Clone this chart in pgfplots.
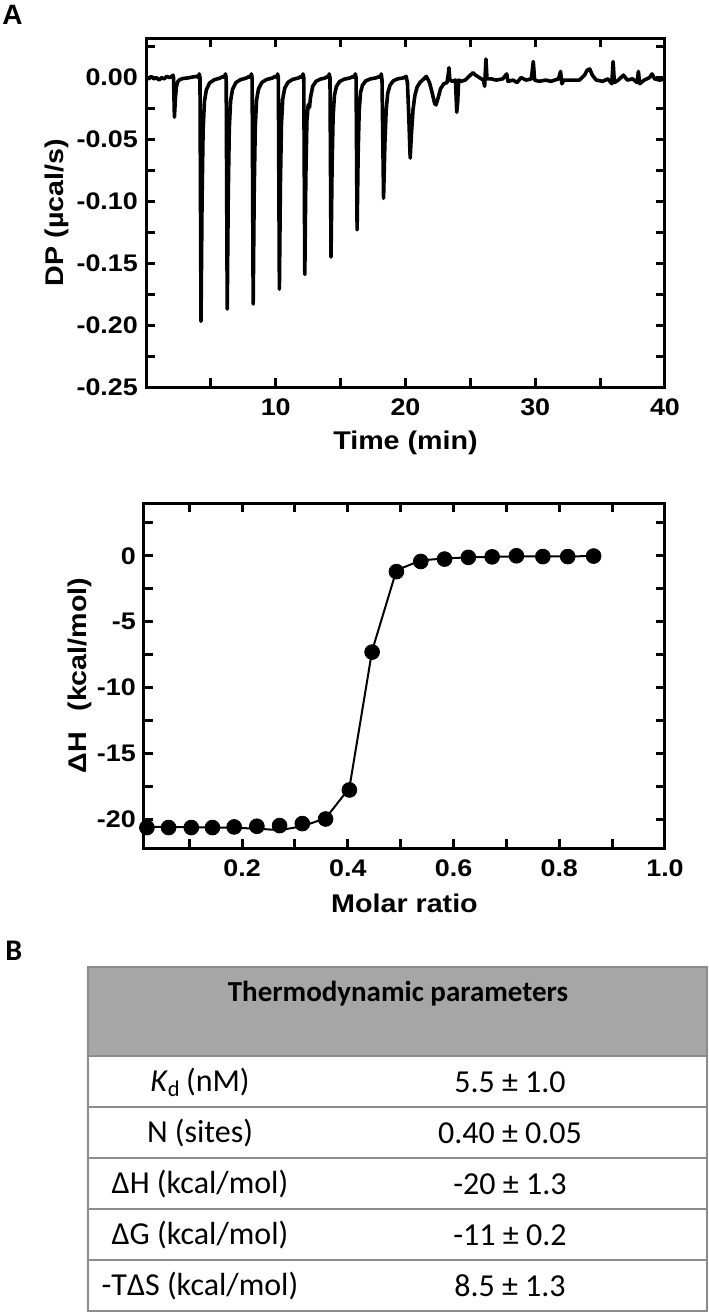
\documentclass[border=0pt]{standalone}
\usepackage{fontspec}
\setmainfont{Liberation Sans}
\newfontfamily\plotfont{Liberation Sans}[FakeStretch=1.12]
\newfontfamily\calibri{Carlito}
\usepackage{pgfplots}
\pgfplotsset{compat=1.18}
\definecolor{ruleGray}{HTML}{8C8C8C}
\definecolor{headGray}{HTML}{A6A6A6}

\pgfplotsset{itcstyle/.style={
  scale only axis, anchor=north west,
  tick align=inside,
  major tick length=4.5pt, minor tick length=4.5pt,
  line width=1.5pt,
  every tick/.style={black, line width=1.5pt},
  tick label style={font=\plotfont\bfseries\fontsize{12}{14}\selectfont},
  label style={font=\plotfont\bfseries\fontsize{12.8}{15}\selectfont},
  xticklabel style={yshift=-2pt},
}}

\begin{document}
\begin{tikzpicture}
\useasboundingbox (0,0) rectangle (354pt,-657pt);
\node[anchor=north west, inner sep=0pt, font=\bfseries\fontsize{14}{16}\selectfont] at (1pt,-2.5pt) {A};

% thermogram
\begin{axis}[itcstyle,
  at={(73pt,-19pt)}, width=259.5pt, height=174.5pt,
  xmin=0, xmax=40, ymin=-0.25, ymax=0.032,
  xtick={10,20,30,40}, xticklabels={10,20,30,40},
  minor xtick={5,15,25,35},
  ytick={-0.25,-0.2,-0.15,-0.1,-0.05,0},
  yticklabels={-0.25,-0.20,-0.15,-0.10,-0.05,0.00},
  minor ytick={-0.225,-0.175,-0.125,-0.075,-0.025,0.025},
  xlabel={Time (min)}, ylabel={DP (µcal/s)},
  xlabel style={at={(axis description cs:0.5,-0.1605)}, anchor=center},
  ylabel style={at={(axis description cs:-0.1715,0.5)}, anchor=center},
]
\addplot[black, line width=1.8pt, line join=round] coordinates {
(0,0.0)(0.2,-0.001)(0.4,0.001)(0.6,-0.001)(0.8,0.0)(1.0,-0.002)(1.2,0.0)(1.4,-0.001)(1.6,0.001)(1.8,0.0)(2.0,0.001)
(2.08,0.002)(2.12,0.0)(2.19,-0.032)(2.27,-0.016)(2.35,-0.007)(2.45,-0.0032)(2.6,-0.0016)(2.85,-0.0007)(3.2,-0.0003)(3.6,0.0005)(3.9,0.001)(4.05,0.0)
(4.1,0.003)(4.16,0.0)(4.24,-0.197)(4.32,-0.0985)(4.4,-0.0433)(4.5,-0.0197)(4.65,-0.0099)(4.9,-0.0043)(5.25,-0.0018)(5.7,-0.0004)(5.95,0.001)(6.05,0.0)
(6.12,0.003)(6.18,0.0)(6.26,-0.187)(6.34,-0.0935)(6.42,-0.0411)(6.52,-0.0187)(6.67,-0.0094)(6.92,-0.0041)(7.27,-0.0017)(7.72,-0.0004)(7.97,0.001)(8.07,0.0)
(8.12,0.003)(8.18,0.0)(8.26,-0.183)(8.34,-0.0915)(8.42,-0.0403)(8.52,-0.0183)(8.67,-0.0092)(8.92,-0.004)(9.27,-0.0016)(9.72,-0.0004)(9.97,0.001)(10.09,0.0)
(10.14,0.003)(10.2,0.0)(10.28,-0.171)(10.36,-0.0855)(10.44,-0.0376)(10.54,-0.0171)(10.69,-0.0086)(10.94,-0.0038)(11.29,-0.0015)(11.74,-0.0003)(11.97,0.001)(12.05,0.0)
(12.1,0.003)(12.16,0.0)(12.24,-0.159)(12.32,-0.0795)(12.4,-0.035)(12.5,-0.022)(12.6,-0.024)(12.68,-0.016)(12.85,-0.007)(13.1,-0.003)(13.45,-0.0012)(13.8,-0.0003)(14.0,0.001)(14.07,0.0)
(14.12,0.003)(14.18,0.0)(14.26,-0.145)(14.34,-0.0725)(14.42,-0.0319)(14.52,-0.0145)(14.67,-0.0073)(14.92,-0.0032)(15.27,-0.0013)(15.72,-0.0003)(15.98,0.001)(16.08,0.0)
(16.13,0.003)(16.19,0.0)(16.27,-0.123)(16.35,-0.0615)(16.43,-0.0271)(16.53,-0.0123)(16.68,-0.0062)(16.93,-0.0027)(17.28,-0.0011)(17.73,-0.0002)(18.0,0.001)(18.08,0.0)
(18.13,0.003)(18.19,-0.002)(18.31,-0.0975)(18.41,-0.0536)(18.51,-0.0263)(18.63,-0.0127)(18.8,-0.0063)(19.05,-0.0027)(19.4,-0.001)(19.85,-0.0002)
(20.05,0.001)(20.15,-0.004)(20.25,-0.03)(20.36,-0.065)(20.46,-0.045)(20.58,-0.026)(20.72,-0.0145)(20.9,-0.0075)(21.15,-0.0035)(21.4,-0.0012)(21.6,0.001)
(21.85,-0.004)(22.05,-0.012)(22.25,-0.021)(22.35,-0.022)(22.5,-0.017)(22.7,-0.009)(22.95,-0.005)(23.2,-0.004)(23.3,0.003)(23.35,0.008)(23.42,-0.002)(23.6,-0.003)(23.85,-0.002)(23.95,-0.028)(24.02,-0.02)(24.1,-0.002)
(24.3,-0.003)(24.6,-0.002)(24.9,0.001)(25.2,0.004)(25.4,0.002)(25.7,0.0)(26.0,-0.002)(26.1,-0.007)(26.2,0.015)(26.28,-0.001)(26.6,-0.001)(27.0,-0.002)(27.5,-0.001)
(27.8,0.003)(27.9,-0.003)(28.3,-0.002)(28.6,-0.004)(28.9,0.0)(29.3,-0.002)(29.7,-0.001)(29.85,0.013)(29.95,-0.002)(30.3,-0.003)(30.8,-0.002)(31.2,-0.003)(31.8,-0.001)
(31.95,0.005)(32.05,-0.005)(32.2,-0.002)(32.8,-0.002)(33.4,-0.002)(33.8,0.002)(34.0,0.006)(34.2,0.007)(34.4,0.002)(34.7,-0.002)(35.2,-0.003)(35.6,-0.001)(35.9,-0.005)
(36.0,0.013)(36.1,-0.004)(36.4,-0.002)(36.8,0.002)(37.1,-0.002)(37.5,-0.001)(37.85,-0.004)(37.95,0.005)(38.05,-0.005)(38.4,-0.002)(38.8,0.0)(39.0,0.003)(39.2,-0.001)(39.6,-0.002)(40,-0.001)
};
\end{axis}

% binding isotherm
\begin{axis}[itcstyle,
  at={(72pt,-251.5pt)}, width=260.5pt, height=172.5pt,
  xmin=0.0145, xmax=1, ymin=-22.15, ymax=4,
  clip=false,
  xtick={0.2,0.4,0.6,0.8,1.0}, xticklabels={0.2,0.4,0.6,0.8,1.0},
  minor xtick={0.1,0.3,0.5,0.7,0.9},
  ytick={-20,-15,-10,-5,0}, yticklabels={-20,-15,-10,-5,0},
  minor ytick={-17.5,-12.5,-7.5,-2.5,2.5},
  xlabel={Molar ratio}, ylabel={ΔH\hspace{0.8em}(kcal/mol)},
  xlabel style={at={(axis description cs:0.5,-0.159)}, anchor=center},
  ylabel style={at={(axis description cs:-0.123,0.5)}, anchor=center},
]
\addplot[black, line width=1pt, line join=round] coordinates {
(0.020,-20.55)(0.061,-20.55)(0.104,-20.58)(0.144,-20.6)(0.185,-20.62)(0.228,-20.68)(0.271,-20.8)(0.314,-20.5)(0.358,-19.9)(0.403,-17.6)
(0.446,-7.2)(0.492,-1.1)(0.538,-0.35)(0.583,-0.2)(0.628,-0.12)(0.673,-0.08)(0.719,-0.05)(0.769,-0.05)(0.816,-0.04)(0.865,-0.03)
};
\addplot[only marks, mark=*, mark size=3.7pt, mark options={fill=black, draw=black, line width=0.4pt}] coordinates {
(0.020,-20.6)(0.061,-20.6)(0.104,-20.6)(0.144,-20.6)(0.185,-20.55)(0.228,-20.5)(0.271,-20.45)(0.314,-20.3)(0.358,-19.95)(0.403,-17.75)
(0.446,-7.3)(0.492,-1.2)(0.538,-0.43)(0.583,-0.25)(0.628,-0.12)(0.673,-0.08)(0.719,0.0)(0.769,-0.06)(0.816,-0.06)(0.865,-0.02)
};
\end{axis}

% table B
\node[anchor=north west, inner sep=0pt, font=\calibri\bfseries\fontsize{15}{17}\selectfont] at (2.5pt,-470.5pt) {B};
\fill[headGray] (44pt,-483.5pt) rectangle (353.5pt,-528pt);
\draw[ruleGray, line width=1pt] (44pt,-483.5pt) rectangle (353.5pt,-655.5pt);
\foreach \yy in {-528,-553.5,-579,-604.5,-630}
  \draw[ruleGray, line width=1pt] (44pt,\yy pt) -- (353.5pt,\yy pt);
\begin{scope}[every node/.style={font=\calibri\fontsize{16}{18}\selectfont, inner sep=0pt, anchor=center}]
\node[font=\calibri\bfseries\fontsize{14.5}{17}\selectfont] at (199pt,-497pt) {Thermodynamic parameters};
\node at (100pt,-541pt) {\textit{K}\textsubscript{d}\,(nM)};
\node at (100pt,-566.5pt) {N (sites)};
\node at (100pt,-592pt) {ΔH (kcal/mol)};
\node at (100pt,-617.5pt) {ΔG (kcal/mol)};
\node at (100pt,-643pt) {-TΔS (kcal/mol)};
\node at (255pt,-541pt) {5.5 ± 1.0};
\node at (255pt,-566.5pt) {0.40 ± 0.05};
\node at (255pt,-592pt) {-20 ± 1.3};
\node at (255pt,-617.5pt) {-11 ± 0.2};
\node at (255pt,-643pt) {8.5 ± 1.3};
\end{scope}
\end{tikzpicture}
\end{document}
